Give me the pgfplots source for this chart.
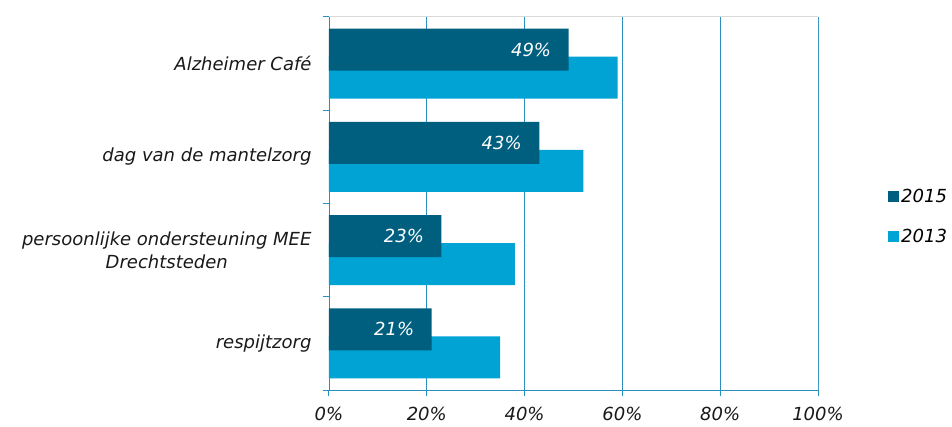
\documentclass[border=0pt]{standalone}
\usepackage{pgfplots}
\pgfplotsset{compat=1.18}
\usepackage{fontspec}
\setmainfont{DejaVu Sans}
\definecolor{dark}{HTML}{005F7F}
\definecolor{light}{HTML}{00A3D3}
\definecolor{gridblue}{HTML}{2A8FBF}
\definecolor{bordergray}{HTML}{D9D9D9}
\newcommand{\lbl}{\fontsize{18}{23}\selectfont\itshape}
\begin{document}
\begin{tikzpicture}
\useasboundingbox (-329pt,-36pt) rectangle (623pt,390pt);
\begin{axis}[
  at={(0pt,0pt)}, anchor=south west,
  scale only axis, width=489pt, height=373pt,
  xbar, bar width=42pt,
  xmin=0, xmax=100, ymin=-0.5, ymax=3.5,
  axis x line*=bottom, axis y line*=left,
  axis line style={gridblue, line width=0.8pt, -},
  xtick={0,20,40,60,80,100},
  xticklabels={0\%,20\%,40\%,60\%,80\%,100\%},
  ytick={-0.5,0.5,1.5,2.5,3.5},
  yticklabels={},
  extra y ticks={0,1,2,3},
  extra y tick labels={respijtzorg,{persoonlijke ondersteuning MEE\\Drechtsteden},dag van de mantelzorg,Alzheimer Café},
  extra y tick style={grid=none, tick style={draw=none}},
  tick align=outside,
  major tick length=6pt,
  every tick/.style={draw=gridblue, line width=1pt},
  xmajorgrids,
  major x grid style={gridblue, line width=0.8pt},
  yticklabel style={align=center, font=\lbl, text=black!90, xshift=-8pt},
  xticklabel style={font=\lbl, text=black!90, yshift=-8pt},
  /pgf/number format/assume math mode=true,
  legend style={at={(1.137,0.465)}, anchor=west, draw=none, fill=none, font=\lbl, row sep=22pt},
  legend cell align=left,
  reverse legend,
  legend image code/.code={\fill[#1] (0pt,-5.5pt) rectangle (11pt,5.5pt);},
]
\addplot[fill=light, draw=none, bar shift=-14pt] coordinates {(35,0) (38,1) (52,2) (59,3)};
\addplot[fill=dark, draw=none, bar shift=14pt,
  point meta=x,
  nodes near coords={\pgfmathprintnumber{\pgfplotspointmeta}\%},
  every node near coord/.append style={anchor=east, xshift=-14pt, text=white, font=\lbl}]
  coordinates {(21,0) (23,1) (43,2) (49,3)};
\legend{2013,2015}
\draw[bordergray, line width=1pt] (rel axis cs:0,1) -- (rel axis cs:1,1) -- (rel axis cs:1,0);
\end{axis}
\end{tikzpicture}
\end{document}
